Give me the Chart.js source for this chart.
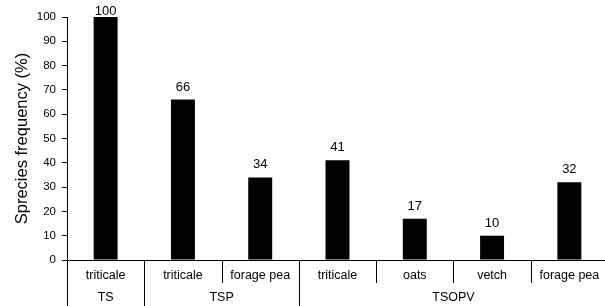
<!DOCTYPE html>
<html>
<head>
<meta charset="utf-8">
<script src="https://cdn.jsdelivr.net/npm/chart.js@4"></script>
<style>
    html, body { margin: 0; padding: 0; background: #fff; overflow: hidden; }
    .chart-container { position: relative; width: 615px; height: 306px; }
</style>
</head>
<body>
<div class="chart-container"><canvas id="speciesChart"></canvas></div>
<script>
// Chart data
const species = ['triticale', 'triticale', 'forage pea', 'triticale', 'oats', 'vetch', 'forage pea'];
const frequency = [100, 66, 34, 41, 17, 10, 32];
const groups = ['TS', 'TSP', 'TSOPV'];
const groupSizes = [1, 2, 4];
const yTicks = [0, 10, 20, 30, 40, 50, 60, 70, 80, 90, 100];

const FONT = 'Arial, "Liberation Sans", sans-serif';

// Value labels above bars + two-row category axis
const labelsPlugin = {
    id: 'labelsPlugin',
    afterDraw(chart) {
        const ctx = chart.ctx;
        const x = chart.scales.x;
        const area = chart.chartArea;
        const meta = chart.getDatasetMeta(0);
        ctx.save();
        ctx.fillStyle = '#000';
        ctx.textAlign = 'center';

        // values above bars
        ctx.font = '13px ' + FONT;
        ctx.textBaseline = 'bottom';
        meta.data.forEach((bar, i) => {
            const y = Math.max(bar.y - 6, area.top + 1);
            ctx.fillText(String(frequency[i]), bar.x, y);
        });

        // species row
        ctx.font = '12.5px ' + FONT;
        const half = (x.getPixelForValue(1) - x.getPixelForValue(0)) / 2;
        const axisY = area.bottom;
        ctx.textBaseline = 'middle';
        species.forEach((s, i) => {
            ctx.fillText(s, x.getPixelForValue(i), axisY + 16);
        });

        // separators
        const bounds = [0];
        groupSizes.reduce((acc, n) => { bounds.push(acc + n); return acc + n; }, 0);
        ctx.strokeStyle = '#000';
        ctx.lineWidth = 1;
        for (let i = 0; i <= species.length; i++) {
            const px = Math.round(x.getPixelForValue(i) - half) + 0.5;
            const long = bounds.includes(i);
            ctx.beginPath();
            ctx.moveTo(px, axisY);
            ctx.lineTo(px, long ? chart.height : axisY + 23);
            ctx.stroke();
        }

        // group row
        let start = 0;
        groups.forEach((g, gi) => {
            const end = start + groupSizes[gi] - 1;
            const cx = (x.getPixelForValue(start) + x.getPixelForValue(end)) / 2;
            ctx.fillText(g, cx, axisY + 38);
            start = end + 1;
        });
        ctx.restore();
    }
};

const ctx = document.getElementById('speciesChart').getContext('2d');
const speciesChart = new Chart(ctx, {
    type: 'bar',
    data: {
        labels: species,
        datasets: [{
            data: frequency,
            backgroundColor: '#000',
            borderWidth: 0,
            barPercentage: 0.31,
            categoryPercentage: 1
        }]
    },
    options: {
        responsive: true,
        maintainAspectRatio: false,
        animation: false,
        layout: { padding: { top: 17, right: 7 } },
        plugins: {
            legend: { display: false },
            tooltip: { enabled: false }
        },
        scales: {
            x: {
                grid: { display: false, drawTicks: false },
                border: { display: true, color: '#000', width: 1 },
                ticks: { display: false },
                afterFit(scale) { scale.height = 46; }
            },
            y: {
                min: 0,
                max: 100,
                afterBuildTicks(scale) { scale.ticks = yTicks.map(v => ({ value: v })); },
                grid: { drawOnChartArea: false, drawTicks: true, tickLength: 5, color: '#000' },
                border: { display: true, color: '#000', width: 1 },
                ticks: {
                    color: '#000',
                    padding: 6,
                    font: { family: FONT, size: 11.5 }
                },
                title: {
                    display: true,
                    text: 'Sprecies frequency (%)',
                    color: '#000',
                    font: { family: FONT, size: 16.5 },
                    padding: { top: 12.5, bottom: 0 }
                },
                afterFit(scale) { scale.width = 67; }
            }
        }
    },
    plugins: [labelsPlugin]
});
</script>
</body>
</html>
